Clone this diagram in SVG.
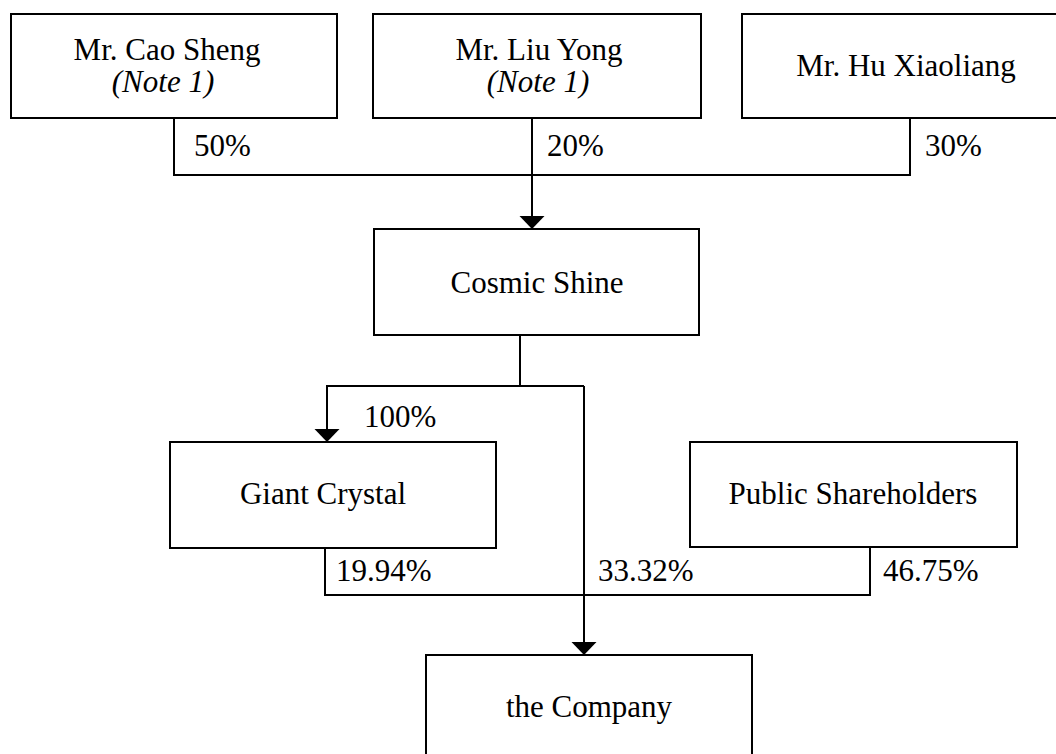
<svg xmlns="http://www.w3.org/2000/svg" width="1056" height="754" viewBox="0 0 1056 754">
<style>
.box{fill:#fff;stroke:#000;stroke-width:2}
.ln{fill:none;stroke:#000;stroke-width:2}
text{font-family:"Liberation Serif","Times New Roman",serif;font-size:31px;fill:#000}
.c{text-anchor:middle}
.i{font-style:italic}
</style>
<defs>
<marker id="arr" markerUnits="userSpaceOnUse" viewBox="0 -13 13 26" markerWidth="13" markerHeight="26" refX="0" refY="0" orient="auto" overflow="visible">
<path d="M0,-12.5 L13,0 L0,12.5 Z" fill="#000"/>
</marker>
</defs>
<rect width="1056" height="754" fill="#fff"/>
<g id="connectors">
<path class="ln" d="M174,118 V175 H910 V118"/>
<path class="ln" d="M532,118 V216" marker-end="url(#arr)"/>
<path class="ln" d="M520,335 V386"/>
<path class="ln" d="M584,386 H327 V429" marker-end="url(#arr)"/>
<path class="ln" d="M584,386 V642" marker-end="url(#arr)"/>
<path class="ln" d="M325,548 V595 H870 V547"/>
<text x="194" y="156">50%</text>
<text x="547" y="156">20%</text>
<text x="925" y="156">30%</text>
<text x="364" y="427">100%</text>
<text x="336" y="581">19.94%</text>
<text x="598" y="581">33.32%</text>
<text x="883" y="581">46.75%</text>
</g>
<g id="cao">
<rect class="box" x="11" y="14" width="326" height="104"/>
<text class="c" x="167" y="60">Mr. Cao Sheng</text>
<text class="c i" x="163" y="92">(Note 1)</text>
</g>
<g id="liu">
<rect class="box" x="373" y="14" width="328" height="104"/>
<text class="c" x="539" y="60">Mr. Liu Yong</text>
<text class="c i" x="538" y="92">(Note 1)</text>
</g>
<g id="hu">
<rect class="box" x="742" y="14" width="326" height="104"/>
<text class="c" x="906" y="76">Mr. Hu Xiaoliang</text>
</g>
<g id="cosmic">
<rect class="box" x="374" y="229" width="325" height="106"/>
<text class="c" x="537" y="293">Cosmic Shine</text>
</g>
<g id="giant">
<rect class="box" x="170" y="442" width="326" height="106"/>
<text class="c" x="323" y="504">Giant Crystal</text>
</g>
<g id="public">
<rect class="box" x="690" y="442" width="327" height="105"/>
<text class="c" x="853" y="504">Public Shareholders</text>
</g>
<g id="company">
<rect class="box" x="426" y="655" width="326" height="104"/>
<text class="c" x="589" y="717">the Company</text>
</g>
</svg>
